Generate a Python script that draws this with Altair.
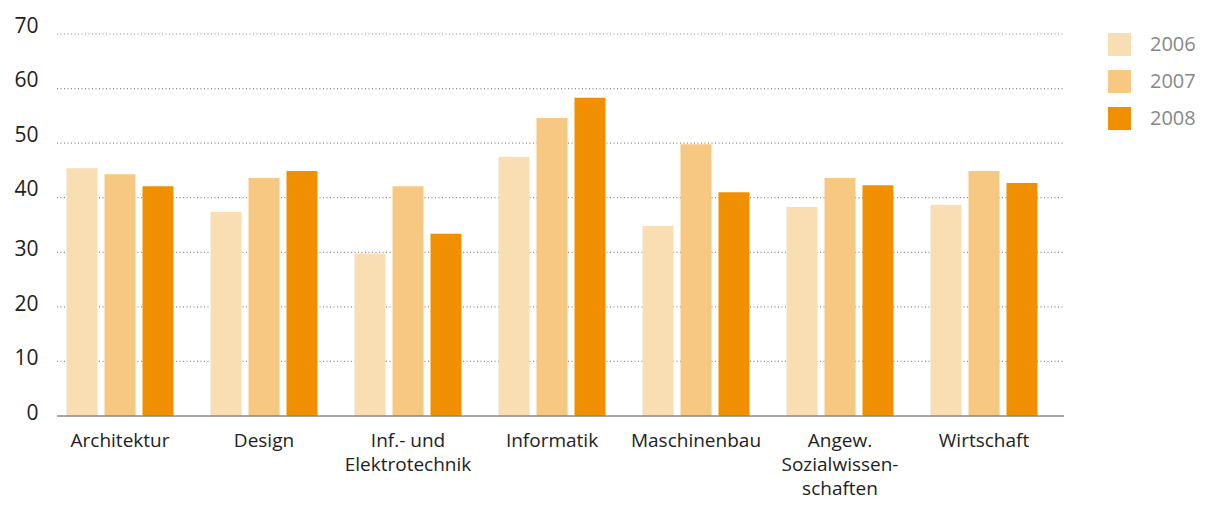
import altair as alt
import pandas as pd

categories = ["Architektur", "Design", "Inf.- und|Elektrotechnik", "Informatik",
              "Maschinenbau", "Angew.|Sozialwissen-|schaften", "Wirtschaft"]
years = ["2006", "2007", "2008"]
v2006 = [45.4, 37.4, 29.8, 47.5, 34.8, 38.3, 38.7]
v2007 = [44.3, 43.6, 42.1, 54.6, 49.8, 43.6, 44.9]
v2008 = [42.1, 44.9, 33.4, 58.3, 41.0, 42.3, 42.7]
grid_values = [10, 20, 30, 40, 50, 60, 70]
tick_values = [0, 10, 20, 30, 40, 50, 60, 70]
colors = ["#F9DDB3", "#F7C881", "#F08F00"]

rows = []
for i, c in enumerate(categories):
    for y, vals in zip(years, [v2006, v2007, v2008]):
        rows.append({"cat": c, "year": y, "value": vals[i]})
df = pd.DataFrame(rows)

FONT = "Open Sans"
yscale = alt.Scale(domain=[0, 70], nice=False)
yaxis = alt.Axis(values=tick_values,
                 labelFontSize=21, labelFont=FONT, labelColor="#222222",
                 labelPadding=19, ticks=False, domain=False,
                 labelBaseline="middle",
                 labelOffset={"condition": {"test": "datum.value >= 40", "value": -8},
                              "value": -2.5},
                 grid=False)

grid = alt.Chart(pd.DataFrame({"g": grid_values})).mark_rule(
    color="#8a8a8a", strokeDash=[1, 2.5], strokeWidth=1.2
).encode(
    y=alt.Y("g:Q", scale=yscale, title=None, axis=yaxis),
    x=alt.value(0), x2=alt.value(1007),
)

bars = alt.Chart(df).mark_bar().encode(
    x=alt.X("cat:N", sort=categories, title=None,
            scale=alt.Scale(range=[-9, 999], paddingInner=0.257, paddingOuter=0.1285),
            axis=alt.Axis(labelAngle=0, labelExpr="split(datum.label, '|')",
                          labelFontSize=19, labelFont=FONT, labelColor="#222222",
                          labelLineHeight=24, labelPadding=15, labelBaseline="top",
                          ticks=False, domain=False, grid=False)),
    xOffset=alt.XOffset("year:N", scale=alt.Scale(paddingInner=0.184, paddingOuter=0)),
    y=alt.Y("value:Q", title=None, scale=yscale, axis=yaxis),
    color=alt.Color("year:N", scale=alt.Scale(domain=years, range=colors),
                    legend=alt.Legend(title=None, orient="none", legendX=1051, legendY=-1,
                                      symbolType="square", symbolSize=529,
                                      symbolStrokeWidth=0, symbolOpacity=1,
                                      labelFontSize=20, labelFont=FONT,
                                      labelColor="#888888", labelOffset=19,
                                      rowPadding=14)),
)

baseline = alt.Chart(pd.DataFrame({"y": [0]})).mark_rule(color="#888888", strokeWidth=1.5).encode(
    y=alt.Y("y:Q", scale=yscale, title=None, axis=yaxis),
    x=alt.value(0), x2=alt.value(1007),
)

final = alt.layer(grid, bars, baseline).properties(
    width=1007, height=382,
    autosize=alt.AutoSizeParams(type="none"),
    padding={"left": 49, "top": 26, "right": 135, "bottom": 83},
).configure_view(stroke=None)

final.save("out.html", embed_options={"renderer": "svg", "actions": False})
